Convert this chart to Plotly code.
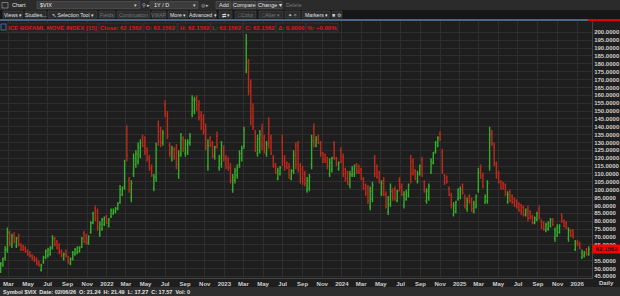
import plotly.graph_objects as go
import pandas as pd

# ---------------- data (weekly OHLC) ----------------
start_date = "2021-02-05"

highs = [
    54, 57, 64, 76, 74, 72, 73, 70, 72, 66,
    65, 64, 62, 61, 59, 58, 57, 55, 53, 58,
    62, 63, 64, 71, 70, 68, 66, 62, 60, 62,
    58, 57, 61, 63, 64, 64, 70, 74, 72, 71,
    80, 86, 90, 88, 80, 82, 83, 84, 82, 88,
    88, 89, 92, 103, 102, 119, 141, 108, 106, 123,
    125, 130, 132, 135, 134, 127, 122, 116, 110, 130,
    144, 140, 138, 157, 150, 130, 128, 127, 129, 125,
    136, 134, 132, 132, 136, 160, 159, 160, 157, 150,
    148, 142, 132, 134, 131, 128, 137, 122, 131, 128,
    122, 121, 117, 110, 114, 116, 125, 128, 140, 199,
    183, 170, 155, 138, 135, 138, 142, 135, 131, 146,
    135, 122, 117, 114, 115, 135, 122, 118, 117, 113,
    125, 130, 131, 117, 115, 112, 108, 110, 135, 142,
    134, 135, 131, 124, 123, 121, 120, 121, 131, 121,
    118, 127, 123, 114, 112, 112, 115, 116, 117, 116,
    114, 108, 104, 103, 102, 105, 122, 116, 112, 106,
    108, 99, 96, 104, 101, 102, 100, 108, 104, 99,
    100, 104, 122, 120, 113, 112, 116, 121, 106, 101,
    104, 120, 124, 131, 134, 137, 126, 110, 109, 102,
    98, 92, 93, 101, 102, 104, 97, 95, 97, 95,
    93, 97, 114, 116, 111, 97, 106, 140, 138, 130,
    118, 112, 106, 105, 104, 99, 100, 97, 95, 94,
    92, 91, 90, 88, 90, 87, 84, 83, 86, 90,
    81, 80, 79, 80, 82, 82, 76, 78, 78, 85,
    81, 80, 76, 75, 75, 68, 68, 67, 62, 61,
    63, 64,
]
lows = [
    47, 51, 55, 60, 64, 63, 66, 63, 64, 61,
    61, 60, 58, 57, 55, 54, 52, 51, 48, 53,
    56, 57, 58, 62, 64, 62, 59, 57, 55, 57,
    53, 52, 55, 58, 59, 60, 63, 66, 65, 65,
    72, 78, 80, 74, 70, 74, 77, 78, 76, 82,
    84, 85, 87, 91, 96, 100, 118, 98, 92, 108,
    114, 116, 120, 127, 122, 118, 112, 108, 99, 105,
    128, 127, 128, 146, 132, 121, 118, 119, 113, 107,
    121, 124, 121, 122, 128, 146, 148, 150, 144, 138,
    135, 125, 112, 127, 120, 119, 126, 112, 114, 118,
    113, 112, 104, 98, 104, 107, 114, 118, 126, 174,
    160, 141, 138, 124, 121, 123, 125, 123, 121, 126,
    122, 114, 110, 106, 109, 115, 112, 113, 107, 106,
    110, 113, 111, 104, 103, 102, 98, 99, 113, 127,
    127, 129, 121, 117, 117, 113, 108, 111, 119, 115,
    112, 117, 108, 105, 103, 101, 108, 108, 110, 110,
    106, 100, 96, 91, 87, 92, 108, 107, 104, 96,
    96, 88, 84, 89, 93, 93, 92, 99, 96, 88,
    93, 95, 104, 109, 106, 104, 109, 108, 98, 91,
    93, 110, 116, 123, 127, 131, 110, 103, 104, 96,
    88, 83, 85, 93, 94, 97, 88, 86, 91, 86,
    85, 88, 98, 107, 101, 91, 91, 112, 128, 115,
    107, 104, 100, 100, 96, 91, 92, 91, 89, 88,
    86, 84, 83, 83, 80, 81, 78, 78, 80, 81,
    75, 74, 73, 74, 76, 77, 67, 70, 72, 79,
    76, 75, 67, 70, 69, 61, 64, 62, 56, 57,
    58, 58,
]
opens = [
    49, 52, 57, 62, 72, 65, 71, 64, 70, 65,
    64, 63, 61, 60, 58, 57, 56, 54, 49, 54,
    57, 58, 59, 63, 69, 67, 65, 61, 56, 61,
    57, 53, 56, 59, 60, 61, 64, 72, 70, 66,
    73, 79, 88, 86, 72, 75, 78, 83, 77, 83,
    85, 86, 88, 92, 97, 102, 135, 106, 95, 110,
    116, 118, 122, 133, 131, 125, 120, 114, 101, 108,
    141, 137, 130, 154, 147, 128, 120, 125, 126, 110,
    123, 132, 123, 124, 130, 148, 150, 158, 154, 147,
    145, 138, 115, 133, 129, 121, 134, 114, 116, 126,
    120, 119, 114, 100, 106, 109, 116, 120, 128, 176,
    181, 166, 152, 136, 123, 125, 139, 133, 123, 142,
    133, 120, 116, 107, 110, 131, 120, 117, 115, 107,
    112, 128, 128, 115, 113, 110, 100, 101, 116, 139,
    128, 134, 129, 123, 122, 120, 110, 113, 129, 120,
    113, 125, 121, 113, 111, 103, 109, 110, 116, 115,
    113, 107, 103, 101, 89, 94, 120, 115, 111, 98,
    106, 97, 86, 91, 100, 100, 93, 106, 102, 90,
    94, 96, 120, 118, 112, 105, 110, 119, 105, 93,
    95, 111, 117, 124, 128, 136, 124, 109, 108, 101,
    96, 84, 86, 94, 95, 103, 95, 88, 96, 93,
    86, 89, 100, 115, 109, 92, 93, 115, 136, 127,
    116, 111, 105, 104, 103, 92, 99, 96, 94, 93,
    91, 90, 89, 84, 88, 86, 83, 79, 81, 88,
    80, 79, 74, 75, 77, 81, 69, 71, 73, 84,
    80, 79, 69, 74, 74, 62, 67, 66, 57, 58,
    62, 59,
]
closes = [
    53, 56, 62, 73, 66, 70, 67, 69, 65, 62,
    62, 61, 59, 58, 56, 55, 53, 52, 52, 57,
    61, 62, 63, 69, 65, 63, 60, 58, 59, 58,
    54, 56, 60, 62, 63, 63, 69, 67, 67, 70,
    79, 85, 82, 76, 78, 81, 82, 79, 81, 87,
    87, 88, 91, 100, 101, 116, 122, 100, 104, 120,
    123, 127, 130, 128, 124, 119, 113, 109, 108, 126,
    131, 130, 136, 148, 134, 123, 126, 121, 116, 122,
    133, 126, 129, 130, 134, 157, 157, 152, 146, 140,
    137, 128, 128, 128, 122, 127, 128, 120, 128, 120,
    115, 114, 106, 108, 112, 114, 123, 126, 138, 193,
    163, 146, 140, 127, 132, 135, 128, 125, 129, 130,
    123, 115, 111, 112, 114, 118, 115, 114, 109, 112,
    122, 116, 113, 107, 105, 104, 106, 108, 131, 130,
    132, 130, 123, 119, 118, 115, 117, 120, 120, 116,
    117, 118, 110, 107, 105, 110, 113, 115, 112, 111,
    107, 101, 98, 93, 99, 103, 110, 108, 105, 104,
    97, 89, 94, 99, 95, 94, 99, 101, 97, 97,
    98, 103, 110, 111, 107, 110, 115, 109, 99, 99,
    102, 118, 123, 130, 133, 132, 112, 104, 105, 97,
    90, 90, 92, 100, 100, 98, 90, 93, 92, 88,
    91, 96, 111, 108, 102, 96, 104, 135, 129, 117,
    109, 105, 101, 101, 97, 97, 93, 92, 90, 89,
    87, 86, 84, 87, 82, 82, 79, 82, 85, 82,
    76, 75, 78, 79, 81, 78, 74, 76, 77, 80,
    77, 76, 74, 71, 70, 66, 65, 63, 60, 60,
    59, 62.1562,
]
assert len(highs) == len(lows) == len(opens) == len(closes), (
    len(highs), len(lows), len(opens), len(closes))

x_tick_dates = [
    "2021-03-01", "2021-05-01", "2021-07-01", "2021-09-01", "2021-11-01",
    "2022-01-01", "2022-03-01", "2022-05-01", "2022-07-01", "2022-09-01", "2022-11-01",
    "2023-01-01", "2023-03-01", "2023-05-01", "2023-07-01", "2023-09-01", "2023-11-01",
    "2024-01-01", "2024-03-01", "2024-05-01", "2024-07-01", "2024-09-01", "2024-11-01",
    "2025-01-01", "2025-03-01", "2025-05-01", "2025-07-01", "2025-09-01", "2025-11-01",
    "2026-01-01",
]
x_tick_text = [
    "Mar", "May", "Jul", "Sep", "Nov",
    "2022", "Mar", "May", "Jul", "Sep", "Nov",
    "2023", "Mar", "May", "Jul", "Sep", "Nov",
    "2024", "Mar", "May", "Jul", "Sep", "Nov",
    "2025", "Mar", "May", "Jul", "Sep", "Nov",
    "2026",
]
y_ticks = [45, 50, 55, 60, 65, 70, 75, 80, 85, 90, 95, 100, 105, 110, 115, 120,
           125, 130, 135, 140, 145, 150, 155, 160, 165, 170, 175, 180, 185, 190, 195, 200]
# the 60 label sits under the last-price tag in the reference, so it is not shown
y_tick_text = ["" if v == 60 else "%.4f" % v for v in y_ticks]

last_close = closes[-1]
header_items = ["ICE BOFAML MOVE INDEX [15]", "Close: 62.1562", "O: 62.1562", "H: 62.1562",
                "L: 62.1562", "C: 62.1562", "\u0394: 0.0000", "%: +0.00%"]
status_text = "Symbol $VIX  Date: 02/06/26  O: 21.24  H: 21.49  L: 17.27  C: 17.57  Vol: 0"

dates = pd.date_range(start_date, periods=len(closes), freq="7D")

# ---------------- figure ----------------
W, H = 620, 296
ML, MR, MT, MB = 0, 28, 21, 18
PW, PH = W - ML - MR, H - MT - MB
FONT = "Liberation Sans, Arial, sans-serif"


def px(x):
    return (x - ML) / PW


def py(y):
    return (H - MB - y) / PH


fig = go.Figure()
fig.add_trace(go.Ohlc(
    x=dates, open=opens, high=highs, low=lows, close=closes,
    increasing=dict(line=dict(color="#36ad2a", width=1.4)),
    decreasing=dict(line=dict(color="#bc2a1c", width=1.4)),
    tickwidth=0.45, hoverinfo="skip", showlegend=False,
))

shapes = []
annotations = []


def rect(x0, y0, x1, y1, fill, line=None, lw=0.6):
    shapes.append(dict(type="rect", xref="paper", yref="paper",
                       x0=px(x0), x1=px(x1), y0=py(y1), y1=py(y0),
                       fillcolor=fill, layer="above",
                       line=dict(color=line if line else fill, width=lw if line else 0)))


def text(x, y, s, color="#d8d8d8", size=5.5, bold=False, anchor="left"):
    annotations.append(dict(xref="paper", yref="paper", x=px(x), y=py(y),
                            xanchor=anchor, yanchor="middle", showarrow=False,
                            text=("<b>%s</b>" % s) if bold else s, borderpad=0,
                            font=dict(family=FONT, size=size, color=color)))


# toolbar row 1
rect(0, 0, 620, 10, "#2b2b2b")
rect(2, 2.5, 8, 8, "#2b2b2b", "#a8a8a8", 0.6)
text(11, 5, "Chart", "#e0e0e0")
rect(37, 1.5, 140, 8.5, "#3c3c3c", "#555555")
text(39, 5, "$VIX", "#e8e8e8")
text(133, 5, "\u25be", "#cccccc", 5)
text(141, 5, "\u26b2", "#cccccc", 5)
text(146, 5, "\u25b8", "#cccccc", 5)
rect(150, 1.5, 198, 8.5, "#3c3c3c", "#555555")
text(153, 5, "1Y / D", "#e8e8e8")
text(192, 5, "\u25be", "#cccccc", 5)
text(200, 5, "\u25ce \u25b8", "#bbbbbb", 5)
for x0, x1, lab, col in [(216, 231, "Add", "#e0e0e0"), (233, 256, "Compare", "#e0e0e0"),
                          (258, 282, "Change \u25be", "#e0e0e0")]:
    rect(x0, 1.5, x1, 8.5, "#383838", "#5a5a5a")
    text((x0 + x1) / 2, 5, lab, col, anchor="center")
text(285, 5, "Delete", "#777777")

# toolbar row 2
rect(0, 10, 620, 19, "#161616")
row2 = [(3, 23, "Views \u25be", "#e0e0e0"), (25, 46, "Studies...", "#e0e0e0"),
        (48, 97, "\u2196 Selection Tool \u25be", "#e0e0e0"), (99, 115, "Fields", "#777777"),
        (117, 150, "Continuation", "#777777"), (152, 166, "VWAP", "#777777"),
        (168, 188, "More \u25be", "#e0e0e0"), (190, 216, "Advanced \u25be", "#e0e0e0"),
        (219, 232, "\u21c4 \u25be", "#e0e0e0"), (235, 256, "\u25a1Color", "#777777"),
        (259, 283, "\u25a1Alter \u25be", "#777777"), (285, 300, "\u2726 \u2727", "#cccccc"),
        (302, 330, "Markers \u25be", "#e0e0e0"), (332, 342, "\u25a0 \u2699", "#cccccc")]
for x0, x1, lab, col in row2:
    rect(x0, 11, x1, 18, "#2c2c2c", "#4a4a4a")
    text((x0 + x1) / 2, 14.5, lab, col, 5.2, anchor="center")

# separator line
rect(0, 19, 620, 21, "#4f6785")
rect(588, 19, 620, 21, "#e00000")

# header legend boxes
hdr_boxes = [(7, 98), (99, 143), (144, 177), (178, 211), (211, 243), (243, 276), (276, 306), (306, 338)]
rect(1, 24, 6, 30, "#1e1e1e", "#4f7fbf", 0.8)
for (x0, x1), s in zip(hdr_boxes, header_items):
    rect(x0, 23, x1, 32, "#222222", "#3e3e3e")
    text((x0 + x1) / 2, 27.5, s, "#e5141b", 6, True, anchor="center")

# status bar
rect(0, 287, 620, 296, "#2e2e2e")
text(2, 291.5, status_text, "#e2e2e2", 5.5, True)
text(598, 283, "Daily", "#cfcfcf", 6, True)

# last price tag
annotations.append(dict(xref="paper", yref="y", x=1.0, y=last_close, xanchor="left",
                        yanchor="middle", showarrow=False, text="<b>62.1562</b>",
                        bgcolor="#ff0000", borderpad=0.5, width=27, height=7,
                        font=dict(family=FONT, size=6, color="#2a0000")))

fig.update_layout(
    width=W, height=H,
    margin=dict(l=ML, r=MR, t=MT, b=MB, pad=0),
    paper_bgcolor="#1e1e1e", plot_bgcolor="#1e1e1e",
    font=dict(family=FONT, size=6, color="#cfcfcf"),
    showlegend=False,
    shapes=shapes, annotations=annotations,
    xaxis=dict(
        type="date", range=["2021-02-03", "2026-02-16"],
        rangeslider=dict(visible=False),
        tickvals=x_tick_dates, ticktext=x_tick_text,
        showgrid=True, gridcolor="#2e2e2e", gridwidth=1,
        showline=True, linecolor="#444444", linewidth=1,
        ticks="", zeroline=False,
        tickfont=dict(family=FONT, size=6, color="#cfcfcf", weight="bold"),
    ),
    yaxis=dict(
        side="right", range=[43.9, 207.2],
        tickvals=y_ticks, ticktext=y_tick_text,
        showgrid=True, gridcolor="#2e2e2e", gridwidth=1,
        showline=True, linecolor="#444444", linewidth=1,
        ticks="", zeroline=False,
        tickfont=dict(family=FONT, size=6, color="#cfcfcf", weight="bold"),
    ),
)

fig.write_html("out.html")
